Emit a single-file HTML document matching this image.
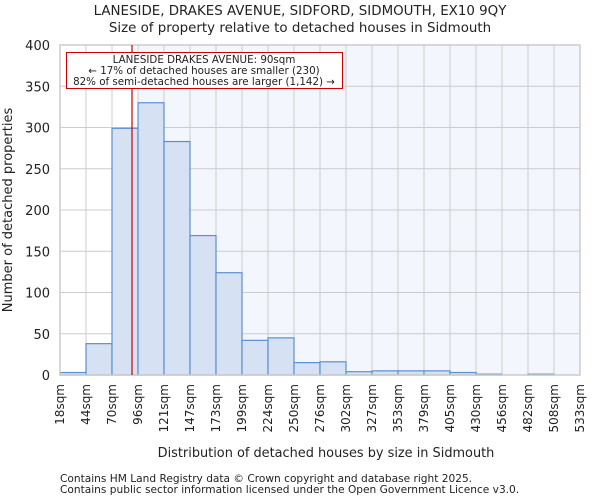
<!DOCTYPE html>
<html><head><meta charset="utf-8"><style>
body{margin:0;background:#fff;font-family:"DejaVu Sans","Liberation Sans",sans-serif;}
svg text{font-family:"DejaVu Sans","Liberation Sans",sans-serif;fill:#222;}
</style></head><body>
<svg id="chart" width="600" height="500">
<text x="300" y="15" text-anchor="middle" font-size="13.4">LANESIDE, DRAKES AVENUE, SIDFORD, SIDMOUTH, EX10 9QY</text>
<text x="300" y="32" text-anchor="middle" font-size="13.4">Size of property relative to detached houses in Sidmouth</text>
<rect x="138" y="45" width="442" height="330" fill="#f3f6fd"/>
<g id="grid"></g><g id="bars"></g><g id="axes"></g>
<text x="326" y="457" text-anchor="middle" font-size="12.9">Distribution of detached houses by size in Sidmouth</text>
<text transform="translate(12,210) rotate(-90)" text-anchor="middle" font-size="13">Number of detached properties</text>
<line id="marker" y1="45" y2="375" stroke="#cc0000" stroke-width="1.2"/>
<g>
<rect x="66.5" y="52.5" width="276" height="36" fill="#fff" stroke="#cc0000" stroke-width="1"/>
<text x="204" y="63" text-anchor="middle" font-size="10.3">LANESIDE DRAKES AVENUE: 90sqm</text>
<text x="204" y="74" text-anchor="middle" font-size="10.3">← 17% of detached houses are smaller (230)</text>
<text x="204" y="85" text-anchor="middle" font-size="10.3">82% of semi-detached houses are larger (1,142) →</text>
</g>
<text x="60" y="482" font-size="10.6">Contains HM Land Registry data © Crown copyright and database right 2025.</text>
<text x="60" y="493" font-size="10.6">Contains public sector information licensed under the Open Government Licence v3.0.</text>
</svg>
<script>
const binLabels=["18sqm","44sqm","70sqm","96sqm","121sqm","147sqm","173sqm","199sqm","224sqm","250sqm","276sqm","302sqm","327sqm","353sqm","379sqm","405sqm","430sqm","456sqm","482sqm","508sqm","533sqm"];
const binEdges=[18,44,70,96,121,147,173,199,224,250,276,302,327,353,379,405,430,456,482,508,533];
const counts=[3,38,299,330,283,169,124,42,45,15,16,4,5,5,5,3,1,0,1,0];
const yTicks=[0,50,100,150,200,250,300,350,400];
const propertySize=90;
const X0=60,X1=580,Y0=375,Y1=45,YMAX=400;
const n=counts.length,bw=(X1-X0)/n;
function xi(i){return X0+i*bw;}
function xv(v){let i=0;while(i<n-1&&v>binEdges[i+1])i++;return xi(i)+(v-binEdges[i])/(binEdges[i+1]-binEdges[i])*bw;}
function y(v){return Y0-(v/YMAX)*(Y0-Y1);}
const NS="http://www.w3.org/2000/svg";
function mk(t,a,p){const e=document.createElementNS(NS,t);for(const k in a)e.setAttribute(k,a[k]);p.appendChild(e);return e;}
const grid=document.getElementById('grid'),bars=document.getElementById('bars'),axes=document.getElementById('axes');
for(let i=0;i<=n;i++){const l=mk('line',{x1:xi(i),x2:xi(i),y1:Y1,y2:Y0,stroke:'#cccccc','stroke-width':1},grid);

}
yTicks.forEach(t=>{const l=mk('line',{x1:X0,x2:X1,y1:y(t),y2:y(t),stroke:'#cccccc','stroke-width':1},grid);


const tx=mk('text',{x:X0-10,y:y(t)+5,'text-anchor':'end','font-size':13},axes);tx.textContent=t;

});
counts.forEach((c,i)=>{if(c<=0)return;const r=mk('rect',{x:xi(i),y:y(c),width:bw,height:Y0-y(c),fill:'#d6e1f3',stroke:'#5b8fd4','stroke-width':1.2},bars);

});
binLabels.forEach((s,i)=>{const tx=mk('text',{transform:`translate(${xi(i)+4},384) rotate(-90)`,'text-anchor':'end','font-size':12},axes);tx.textContent=s;

});
const fr=mk('rect',{x:X0,y:Y1,width:X1-X0,height:Y0-Y1,fill:'none',stroke:'#cccccc','stroke-width':1.5},axes);


const m=document.getElementById('marker');m.setAttribute('x1',xv(propertySize));m.setAttribute('x2',xv(propertySize));
</script>
</body></html>
